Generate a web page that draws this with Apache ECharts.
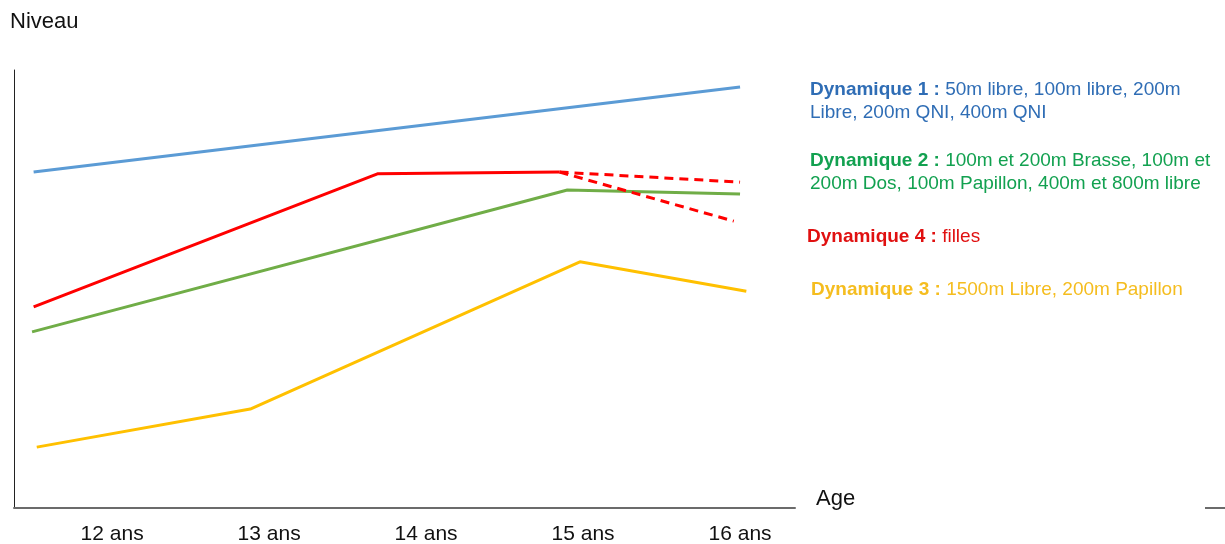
<!DOCTYPE html>
<html>
<head>
<meta charset="utf-8">
<script src="https://cdn.jsdelivr.net/npm/echarts@6/dist/echarts.min.js"></script>
<style>
  html, body { margin: 0; padding: 0; background: #fff; }
  #chart { width: 1225px; height: 544px; }
</style>
</head>
<body>
<div id="chart"></div>
<script>
// ages (x) and niveau (y)
var ageTicks = [12, 13, 14, 15, 16];

var dyn1X = [11.5, 16.0];
var dyn1Y = [76.7, 96.1];

var dyn2X = [11.49, 14.9, 16.0];
var dyn2Y = [40.2, 72.6, 71.7];

var dyn4X = [11.5, 13.69, 14.85];
var dyn4Y = [45.9, 76.3, 76.7];

var dyn4aX = [14.85, 16.0];
var dyn4aY = [76.7, 74.4];

var dyn4bX = [14.85, 15.96];
var dyn4bY = [76.7, 65.5];

var dyn3X = [11.52, 12.88, 14.98, 16.04];
var dyn3Y = [13.9, 22.6, 56.2, 49.5];

function pts(xs, ys) {
  return xs.map(function (x, i) { return [x, ys[i]]; });
}

var FONT = 'Liberation Sans, Arial, sans-serif';

var myChart = echarts.init(document.getElementById('chart'));

function line(name, xs, ys, color, dashed) {
  return {
    name: name,
    type: 'line',
    data: pts(xs, ys),
    symbol: 'none',
    silent: true,
    lineStyle: { color: color, width: 3, type: dashed ? [9, 6] : 'solid' }
  };
}

// légende à droite, texte riche
function legendText(top, left, bold, rest, color) {
  return {
    type: 'text', left: left, top: top,
    style: {
      text: '{b|' + bold + '} ' + rest,
      fontSize: 19, fontFamily: FONT, fill: color, lineHeight: 23,
      rich: { b: { fontWeight: 'bold', fontSize: 19, fontFamily: FONT, fill: color, lineHeight: 23 } }
    }
  };
}

var option = {
  animation: false,
  grid: { left: 14, top: 70, width: 781, height: 438, outerBoundsMode: 'none' },
  xAxis: {
    type: 'value',
    min: 11.375,
    max: 16.35,
    splitLine: { show: false },
    axisLine: { lineStyle: { color: '#6b6b6b', width: 2 } },
    axisTick: { show: false },
    axisLabel: {
      customValues: ageTicks,
      formatter: '{value} ans',
      color: '#111',
      fontSize: 21,
      fontFamily: FONT,
      margin: 16
    }
  },
  yAxis: {
    type: 'value',
    min: 0,
    max: 100,
    splitLine: { show: false },
    axisLine: { show: true, lineStyle: { color: '#222', width: 1 } },
    axisTick: { show: false },
    axisLabel: { show: false }
  },
  graphic: [
    { type: 'text', left: 10, top: 11, style: { text: 'Niveau', fontSize: 22, fontFamily: FONT, fill: '#111' } },
    { type: 'text', left: 816, top: 488, style: { text: 'Age', fontSize: 22, fontFamily: FONT, fill: '#111' } },
    { type: 'line', shape: { x1: 1205, y1: 508, x2: 1225, y2: 508 }, style: { stroke: '#6b6b6b', lineWidth: 2 } },
    legendText(78, 810, 'Dynamique 1 :', '50m libre, 100m libre, 200m\nLibre, 200m QNI, 400m QNI', '#2f6db5'),
    legendText(149, 810, 'Dynamique 2 :', '100m et 200m Brasse, 100m et\n200m Dos, 100m Papillon, 400m et 800m libre', '#12a150'),
    legendText(225, 807, 'Dynamique 4 :', 'filles', '#e01010'),
    legendText(278, 811, 'Dynamique 3 :', '1500m Libre, 200m Papillon', '#f5bd1f')
  ],
  series: [
    line('Dynamique 1', dyn1X, dyn1Y, '#5b9bd5'),
    line('Dynamique 2', dyn2X, dyn2Y, '#70ad47'),
    line('Dynamique 4', dyn4X, dyn4Y, '#ff0000'),
    line('Dynamique 4 a', dyn4aX, dyn4aY, '#ff0000', true),
    line('Dynamique 4 b', dyn4bX, dyn4bY, '#ff0000', true),
    line('Dynamique 3', dyn3X, dyn3Y, '#ffc000')
  ]
};

option && myChart.setOption(option);
</script>
</body>
</html>
